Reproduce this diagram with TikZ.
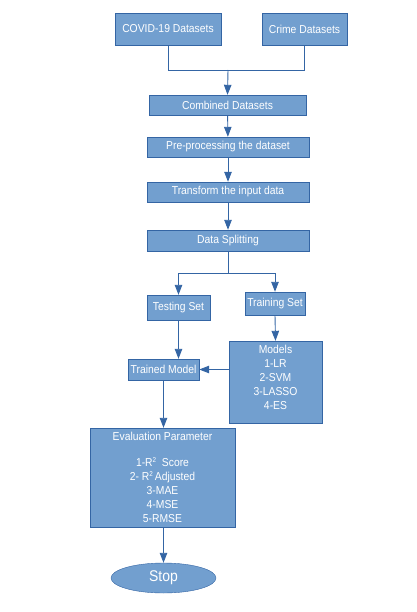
\documentclass[tikz,border=0pt]{standalone}
\usepackage{fontspec}
\setmainfont{Liberation Sans}
\newfontfamily\narrowsans[FakeStretch=0.9]{Liberation Sans}
\usepackage{tikz}
\usetikzlibrary{arrows.meta,shapes.geometric}
\definecolor{boxblue}{HTML}{729FCF}
\definecolor{edgeblue}{HTML}{3465A4}
\colorlet{linkblue}{edgeblue}

\begin{document}
\begin{tikzpicture}[x=1pt,y=-1pt,
    blk/.style={draw=edgeblue, fill=boxblue, text=white, inner sep=0pt,
        font=\narrowsans\fontsize{11.5}{14}\selectfont, align=center},
    flow/.style={linkblue, line width=0.9pt, -{Triangle[length=10pt,width=7.5pt]}},
    wire/.style={linkblue, line width=0.9pt}]
        \useasboundingbox (0,0) rectangle (416,612);
        % sources
        \node[blk, minimum width=106pt, minimum height=32pt] (covid) at (168,29) {COVID-19 Datasets};
        \node[blk, minimum width=85pt, minimum height=32pt] (crime) at (304.5,29) {Crime Datasets};
        % main chain
        \node[blk, minimum width=157pt, minimum height=20pt] (comb) at (227.5,105) {Combined Datasets};
        \node[blk, minimum width=162pt, minimum height=20pt] (pre) at (228,147) {Pre-processing the dataset};
        \node[blk, minimum width=162pt, minimum height=20pt] (trans) at (228,192) {Transform the input data};
        \node[blk, minimum width=162pt, minimum height=21pt] (split) at (228,240.5) {Data Splitting};
        % sets
        \node[blk, minimum width=63pt, minimum height=25pt] (test) at (178.5,307.5) {Testing Set};
        \node[blk, minimum width=60pt, minimum height=23pt] (train) at (275,303.5) {Training Set};
        \node[blk, minimum width=93pt, minimum height=82pt] (models) at (275.5,382) {Models\\1-LR\\2-SVM\\3-LASSO\\4-ES\\[-4pt]};
        \node[blk, minimum width=71pt, minimum height=21pt] (trained) at (163.5,369.5) {Trained Model};
        \node[blk, minimum width=145pt, minimum height=99pt] (eval) at (162.5,477.5)
            {Evaluation Parameter\\[12pt]1-R{\fontsize{7}{7}\selectfont\raisebox{4pt}{2}}\ \ Score\\2- R{\fontsize{7}{7}\selectfont\raisebox{4pt}{2}}\,Adjusted\\3-MAE\\4-MSE\\5-RMSE};
        \node[blk, ellipse, minimum width=105pt, minimum height=30pt, font=\narrowsans\fontsize{15.5}{17}\selectfont] (stop) at (163.5,578) {Stop};
        % joins
        \coordinate (join) at (228,70);
        \coordinate (fork) at (228,273);
        \draw[wire] (covid.south) |- (join);
        \draw[wire] (crime.south) |- (join);
        \draw[flow] (join) -- (comb.north);
        \foreach \a/\b in {comb/pre,pre/trans,trans/split}{
            \draw[flow] (\a) -- (\b);
        }
        \draw[wire] (split.south) -- (fork);
        \draw[flow] (fork) -| (test.north);
        \draw[flow] (fork) -| (train.north);
        \draw[flow] (train.south) -- (models.north);
        \draw[flow] (test.south) -- (test.south |- trained.north);
        \draw[flow] (trained.east -| models.west) -- (trained.east);
        \draw[flow] (trained.south) -- (trained.south |- eval.north);
        \draw[flow] (eval.south -| stop.north) -- (stop.north);
    \end{tikzpicture}
\end{document}
